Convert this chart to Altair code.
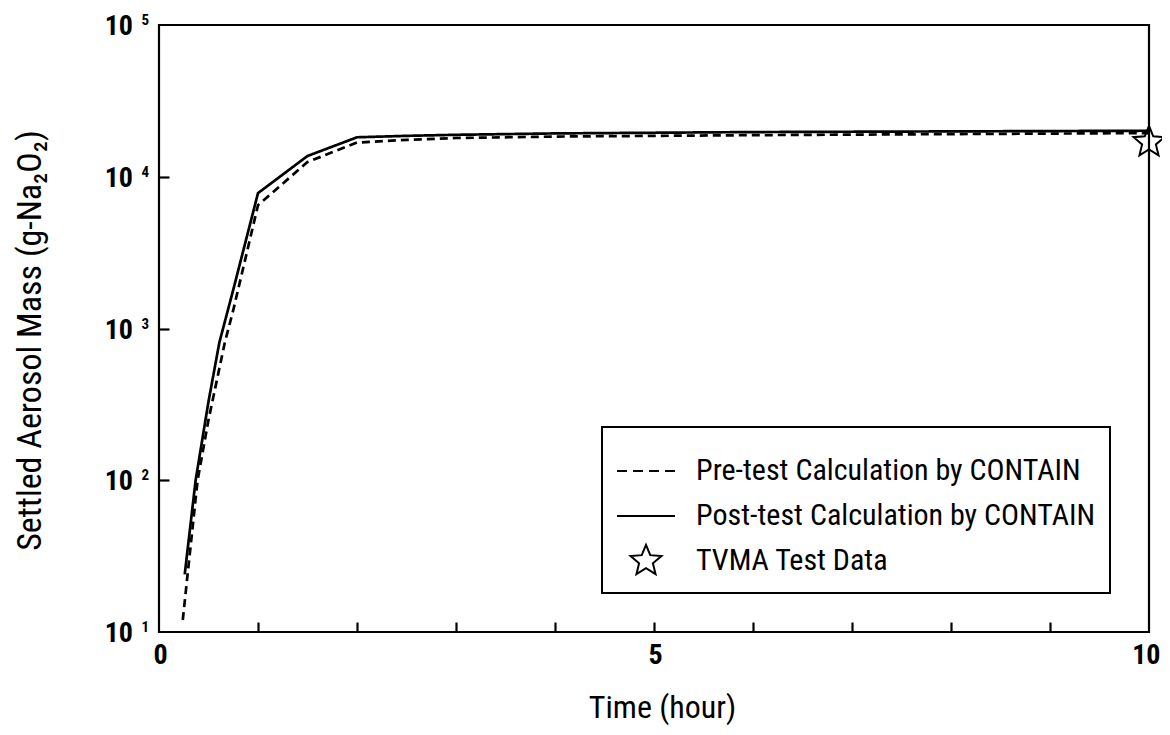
import math
import altair as alt
import pandas as pd

# ---- data ----
pre_t = [0.24, 0.39, 0.5, 0.665, 0.75, 1.0, 1.5, 2.0, 2.5, 3.0, 4.0, 6.0, 8.0, 10.0]
pre_v = [12, 100, 250, 810, 1320, 6500, 12500, 16800, 17500, 18000, 18400, 18800, 19100, 19400]
post_t = [0.26, 0.37, 0.5, 0.61, 0.75, 1.0, 1.5, 2.0, 2.5, 3.0, 4.0, 6.0, 8.0, 10.0]
post_v = [24, 100, 330, 810, 1800, 7800, 13700, 18200, 18600, 18900, 19300, 19700, 19900, 20100]
star_t = [10.0]
star_v = [16900]

series_names = ["Pre-test Calculation by CONTAIN",
                "Post-test Calculation by CONTAIN",
                "TVMA Test Data"]
x_label_values = [0, 5, 10]
x_minor_ticks = [1, 2, 3, 4, 5, 6, 7, 8, 9]
y_decades = [10, 100, 1000, 10000, 100000]
y_base = ["10", "10", "10", "10", "10"]
y_exp = ["1", "2", "3", "4", "5"]

# ---- tables ----
lines_df = pd.DataFrame({
    "t": pre_t + post_t,
    "v": pre_v + post_v,
    "series": [series_names[0]] * len(pre_t) + [series_names[1]] * len(post_t),
})
star_df = pd.DataFrame({"t": star_t, "v": star_v, "series": [series_names[2]] * len(star_t)})
ylab_df = pd.DataFrame({"v": y_decades, "base": y_base, "exp": y_exp, "t0": [0] * len(y_decades)})

# ---- styling ----
NARROW = "Roboto Condensed, Liberation Sans Narrow, DejaVu Sans Condensed, Roboto, sans-serif"
W, H = 990, 607

# legend symbol paths (unit coordinates)
dash_path = "M-1,0H-0.655M-0.448,0H-0.103M0.103,0H0.448M0.655,0H1"
solid_path = "M-1,0H1"
pts = []
for i in range(10):
    r = 0.56 if i % 2 == 0 else 0.25
    a = -math.pi / 2 + i * math.pi / 5
    pts.append(f"{r * math.cos(a):.4f},{r * math.sin(a):.4f}")
star_path = "M" + "L".join(pts) + "Z"

xscale = alt.Scale(domain=[0, 10], nice=False, zero=False)
yscale = alt.Scale(type="log", domain=[10, 100000], nice=False)

lines = alt.Chart(lines_df).mark_line(color="black", strokeWidth=2.7).encode(
    x=alt.X("t:Q", scale=xscale, axis=alt.Axis(
        orient="bottom", values=x_label_values, ticks=False, domain=False, grid=False,
        labelFont=NARROW, labelFontSize=28, labelFontWeight="bold", labelColor="black",
        labelPadding=9, labelFlush=False, labelOverlap=False,
        labelAlign={"condition": {"test": "datum.value == 10", "value": "right"}, "value": "center"},
        labelOffset={"condition": {"test": "datum.value == 10", "value": 11}, "value": 1},
        title="Time (hour)", titleFont=NARROW, titleFontSize=32, titleFontWeight="normal",
        titleColor="black", titleX=503, titleY=75, titleAlign="center", titleBaseline="middle")),
    y=alt.Y("v:Q", scale=yscale, axis=alt.Axis(
        orient="left", labels=False, ticks=False, domain=False, grid=False,
        title="Settled Aerosol Mass (g-Na₂O₂)", titleFont=NARROW, titleFontSize=34,
        titleFontWeight="normal", titleColor="black", titleAngle=-90,
        titleX=-129, titleY=315, titleAlign="center", titleBaseline="middle")),
    strokeDash=alt.StrokeDash("series:N", scale=alt.Scale(
        domain=series_names[:2], range=[[8, 5], [1, 0]]), legend=None),
)

stars = alt.Chart(star_df).mark_point(filled=False, color="black", strokeWidth=2, size=3364, opacity=1).encode(
    x=alt.X("t:Q", scale=xscale, axis=alt.Axis(
        orient="top", offset=-H, values=x_minor_ticks, ticks=True, tickSize=10,
        tickWidth=2.2, tickColor="black", labels=False, domain=False, grid=False, title=None)),
    y=alt.Y("v:Q", scale=yscale, axis=alt.Axis(
        orient="right", offset=-W, values=[100, 1000, 10000], ticks=True, tickSize=10,
        tickWidth=2.2, tickColor="black", labels=False, domain=False, grid=False, title=None)),
    shape=alt.Shape("series:N", scale=alt.Scale(
        domain=series_names, range=[dash_path, solid_path, star_path]),
        legend=alt.Legend(
            orient="none", legendX=443, legendY=402, title=None,
            strokeColor="black", fillColor="white", padding=14,
            symbolSize=3364, symbolStrokeWidth=2, symbolStrokeColor="black",
            symbolFillColor="white", labelFont=NARROW, labelFontSize=30,
            labelColor="black", labelOffset=20, rowPadding=0, labelLimit=600)),
)

ybase = alt.Chart(ylab_df).mark_text(
    align="right", baseline="middle", dx=-26, dy=2, font=NARROW, fontSize=28,
    fontWeight="bold", color="black").encode(
    x=alt.X("t0:Q", scale=xscale, axis=None),
    y=alt.Y("v:Q", scale=yscale, axis=None),
    text="base:N",
)
yexp = alt.Chart(ylab_df).mark_text(
    align="right", baseline="middle", dx=-10, dy=-5, font=NARROW, fontSize=15,
    fontWeight="bold", color="black").encode(
    x=alt.X("t0:Q", scale=xscale, axis=None),
    y=alt.Y("v:Q", scale=yscale, axis=None),
    text="exp:N",
)

chart = alt.layer(lines, stars, ybase, yexp).resolve_axis(
    x="independent", y="independent"
).properties(
    width=W, height=H,
    autosize=alt.AutoSizeParams(type="none"),
    padding={"left": 151, "top": 17, "right": 13, "bottom": 95},
    background="white",
).configure_view(stroke="black", strokeWidth=2.2).configure_legend(strokeWidth=2)

chart.save("out.html", embed_options={"renderer": "svg", "actions": False})
